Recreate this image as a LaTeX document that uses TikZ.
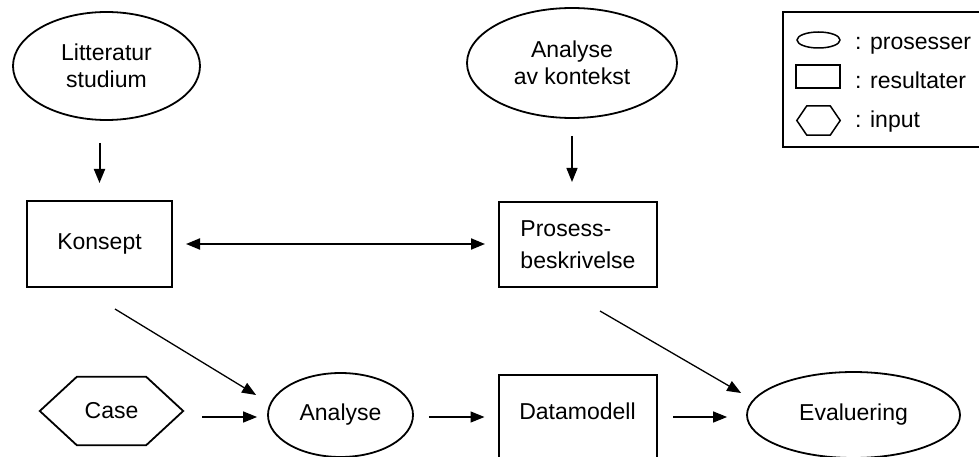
\documentclass[tikz,border=0pt]{standalone}
\usepackage{fontspec}
\setmainfont{Liberation Sans}
\usetikzlibrary{shapes.geometric,arrows.meta,calc}

\tikzset{
  proc/.style={ellipse, draw, line width=1.8pt, inner sep=0pt, align=center},
  result/.style={rectangle, draw, line width=2pt, inner sep=0pt},
  flow/.style={line width=1.3pt, -{Triangle[length=14pt,width=11pt]}},
  boldflow/.style={line width=2pt, -{Triangle[length=14pt,width=11pt]}},
  both/.style={line width=2pt, {Triangle[length=14pt,width=11pt]}-{Triangle[length=14pt,width=11pt]}},
  legtext/.style={anchor=base west, inner sep=0pt},
}

\begin{document}
\begin{tikzpicture}[x=1pt, y=-1pt, font=\fontsize{23}{27}\selectfont]
  % canvas
  \path[use as bounding box, clip] (0,0) rectangle (979,457);
  \fill[white] (0,0) rectangle (979,457);

  % top row: processes
  \node[proc, minimum width=187pt, minimum height=108pt] (lit) at (106.5,66) {Litteratur\\studium};
  \node[proc, minimum width=210pt, minimum height=110pt] (kontekst) at (572,63) {Analyse\\av kontekst};

  % middle row: results
  \node[result, minimum width=145pt, minimum height=86pt] (konsept) at (99.5,244) {Konsept};
  \node[result, minimum width=158pt, minimum height=85pt, align=left,
        font=\fontsize{23}{32}\selectfont] (prosess) at (578,244.5) {Prosess-\\beskrivelse};

  % bottom row
  \node[minimum width=143pt, minimum height=68pt, inner sep=0pt] (case) at (111.5,411) {Case};
  \draw[line width=1.8pt, line join=miter]
    (case.west) -- ($(case.north west)+(37,0)$) -- ($(case.north east)+(-37,0)$)
    -- (case.east) -- ($(case.south east)+(-37,0)$) -- ($(case.south west)+(37,0)$) -- cycle;
  \node[proc, minimum width=145pt, minimum height=84pt] (analyse) at (340.5,415) {Analyse};
  \node[result, anchor=north, minimum width=158pt, text height=44pt, text depth=48pt]
    (datamodell) at (577.5,374) {Datamodell};
  \node[proc, minimum width=213pt, minimum height=86pt] (evaluering) at (853.5,415) {Evaluering};

  % connectors
  \draw[boldflow, shorten <=22pt, shorten >=17pt] (lit.south -| konsept.north) -- (konsept.north);
  \draw[flow, shorten <=17pt, shorten >=19pt] (kontekst.south) -- (kontekst.south |- prosess.north);
  \draw[both, shorten <=13pt, shorten >=13pt] (konsept.east) -- (konsept.east -| prosess.west);
  \draw[flow] ($(konsept.south)+(15.5,21)$) -- ($(analyse.west)+(-11,-20)$);
  \draw[flow] ($(prosess.south)+(22,23)$) -- ($(evaluering.west)+(-5,-22)$);

  \coordinate (lane) at (0,417);
  \draw[flow, shorten <=19pt, shorten >=10pt] (case.east |- lane) -- (analyse.west |- lane);
  \draw[flow, shorten <=15pt, shorten >=13pt] (analyse.east |- lane) -- (datamodell.west |- lane);
  \draw[flow, shorten <=15.5pt, shorten >=19pt] (datamodell.east |- lane) -- (evaluering.west |- lane);

  % legend
  \draw[line width=2pt] (783,12) rectangle (995,147);
  \node[ellipse, draw, line width=1.5pt, minimum width=43pt, minimum height=16pt, inner sep=0pt]
    (lproc) at (818.5,40) {};
  \node[rectangle, draw, line width=1.5pt, minimum width=44pt, minimum height=23pt, inner sep=0pt]
    (lres) at (818,76.5) {};
  \node[minimum width=43pt, minimum height=29pt, inner sep=0pt] (linp) at (818.5,120.5) {};
  \draw[line width=1.5pt, line join=miter]
    (linp.west) -- ($(linp.north west)+(10,0)$) -- ($(linp.north east)+(-10,0)$)
    -- (linp.east) -- ($(linp.south east)+(-10,0)$) -- ($(linp.south west)+(10,0)$) -- cycle;
  \node[legtext] (tproc) at (855,50) {: prosesser};
  \node[legtext] (tres) at (855,89) {: resultater};
  \node[legtext] (tinp) at (855,128) {: input};
\end{tikzpicture}
\end{document}
